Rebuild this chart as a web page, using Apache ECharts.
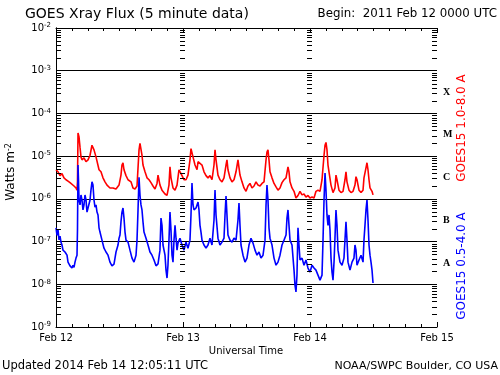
<!DOCTYPE html>
<html>
<head>
<meta charset="utf-8">
<script src="https://cdn.jsdelivr.net/npm/echarts@6/dist/echarts.min.js"></script>
<style>
html, body {margin:0; padding:0; background:#fff;}
#xray {width:500px; height:375px;}
</style>
</head>
<body>
<div id="xray"></div>
<script>
// hours after 2011 Feb 12 00:00 UT, flux in W/m^2
var redHours = [
    0, 0.38, 0.76, 1.13, 1.51, 1.89, 2.27, 2.65, 3.02, 3.40,
    3.78, 3.97, 4.06, 4.16, 4.35, 4.54, 4.72, 4.91, 5.29, 5.67,
    6.05, 6.43, 6.80, 6.99, 7.18, 7.56, 7.75, 8.13, 8.50, 8.88,
    9.26, 9.64, 10.2, 10.77, 11.34, 11.91, 12.28, 12.47, 12.66, 12.85,
    13.23, 13.61, 14.17, 14.55, 14.93, 15.31, 15.69, 15.87, 16.06, 16.25,
    16.44, 16.82, 17.2, 17.58, 17.95, 18.33, 18.71, 19.09, 19.28, 19.65,
    20.03, 20.6, 20.98, 21.35, 21.54, 21.73, 22.11, 22.49, 22.87, 23.24,
    23.43, 23.81, 24.19, 24.57, 24.94, 25.32, 25.51, 25.7, 25.89, 26.27,
    26.65, 26.84, 27.21, 27.59, 27.97, 28.35, 28.72, 29.1, 29.48, 29.86,
    30.05, 30.24, 30.61, 30.99, 31.37, 31.75, 32.13, 32.31, 32.5, 32.88,
    33.26, 33.64, 34.02, 34.39, 34.58, 34.77, 35.15, 35.53, 35.91, 36.28,
    36.66, 37.04, 37.42, 37.8, 38.17, 38.55, 38.93, 39.31, 39.69, 39.87,
    40.06, 40.25, 40.44, 40.82, 41.2, 41.58, 41.95, 42.33, 42.71, 43.09,
    43.47, 43.84, 44.03, 44.22, 44.6, 44.98, 45.35, 45.73, 46.11, 46.49,
    46.87, 47.24, 47.62, 48.0, 48.38, 48.76, 49.13, 49.51, 49.89, 50.27,
    50.65, 50.84, 51.02, 51.21, 51.4, 51.59, 51.97, 52.35, 52.72, 52.91,
    53.1, 53.48, 53.86, 54.24, 54.61, 54.8, 54.99, 55.37, 55.75, 56.13,
    56.5, 56.69, 56.88, 57.26, 57.64, 58.02, 58.2, 58.58, 58.77, 58.96,
    59.15, 59.34, 59.72, 59.91
];
var redFlux = [
    4.8e-6, 4.3e-6, 3.5e-6, 3.9e-6, 3.1e-6, 2.8e-6, 2.6e-6, 2.4e-6, 2.3e-6, 2.0e-6,
    1.8e-6, 1.6e-6, 2.5e-6, 3.5e-5, 2.8e-5, 1.6e-5, 9.6e-6, 8.2e-6, 9.1e-6, 7.4e-6,
    8.2e-6, 1.05e-5, 1.8e-5, 2.0e-5, 1.4e-5, 9.6e-6, 9.1e-6, 4.8e-6, 4.3e-6, 3.1e-6,
    2.5e-6, 2.1e-6, 1.8e-6, 1.8e-6, 1.7e-6, 2.1e-6, 3.6e-6, 6.2e-6, 7.0e-6, 4.8e-6,
    3.5e-6, 2.8e-6, 2.5e-6, 1.8e-6, 1.7e-6, 2.0e-6, 1.4e-5, 2.0e-5, 1.8e-5, 1.05e-5,
    6.2e-6, 4.3e-6, 3.1e-6, 2.8e-6, 2.4e-6, 2.0e-6, 1.7e-6, 2.3e-6, 3.6e-6, 2.1e-6,
    1.6e-6, 1.3e-6, 1.2e-6, 2.1e-6, 5.6e-6, 3.1e-6, 1.8e-6, 1.6e-6, 2.1e-6, 4.8e-6,
    5.3e-6, 3.5e-6, 2.8e-6, 2.8e-6, 3.6e-6, 8.2e-6, 1.5e-5, 1.4e-5, 9.6e-6, 6.2e-6,
    4.8e-6, 7.4e-6, 8.2e-6, 6.2e-6, 4.3e-6, 3.5e-6, 3.1e-6, 3.5e-6, 2.8e-6, 6.2e-6,
    1.4e-5, 8.2e-6, 3.6e-6, 2.8e-6, 2.5e-6, 3.1e-6, 6.2e-6, 8.2e-6, 4.8e-6, 3.1e-6,
    2.5e-6, 2.8e-6, 4.3e-6, 8.2e-6, 7.4e-6, 3.6e-6, 2.5e-6, 1.8e-6, 1.5e-6, 2.0e-6,
    2.3e-6, 1.8e-6, 2.0e-6, 2.5e-6, 2.1e-6, 2.0e-6, 2.3e-6, 2.5e-6, 8.2e-6, 1.24e-5,
    1.4e-5, 8.2e-6, 4.3e-6, 3.1e-6, 2.3e-6, 1.9e-6, 1.6e-6, 1.8e-6, 2.4e-6, 2.8e-6,
    3.1e-6, 5.6e-6, 4.3e-6, 2.5e-6, 1.8e-6, 1.5e-6, 1.05e-6, 1.2e-6, 1.5e-6, 1.24e-6,
    1.3e-6, 1.1e-6, 1.2e-6, 1.05e-6, 1.1e-6, 1.05e-6, 1.5e-6, 1.6e-6, 1.5e-6, 2.8e-6,
    1.05e-5, 1.8e-5, 2.1e-5, 1.4e-5, 6.2e-6, 4.3e-6, 2.1e-6, 1.4e-6, 1.8e-6, 3.6e-6,
    2.8e-6, 1.6e-6, 1.4e-6, 1.5e-6, 2.8e-6, 4.3e-6, 2.5e-6, 1.6e-6, 1.4e-6, 1.5e-6,
    2.1e-6, 3.3e-6, 2.8e-6, 1.6e-6, 1.4e-6, 1.6e-6, 3.1e-6, 5.3e-6, 7.0e-6, 4.8e-6,
    2.8e-6, 1.8e-6, 1.5e-6, 1.24e-6
];
var blueHours = [
    0, 0.19, 0.38, 0.57, 0.76, 0.94, 1.13, 1.32, 1.51, 1.70,
    1.89, 2.08, 2.27, 2.65, 3.02, 3.21, 3.40, 3.59, 3.78, 3.97,
    4.06, 4.16, 4.25, 4.35, 4.54, 4.72, 4.91, 5.10, 5.29, 5.48,
    5.67, 5.86, 6.05, 6.43, 6.61, 6.80, 6.99, 7.18, 7.37, 7.56,
    7.75, 7.94, 8.13, 8.31, 8.50, 8.69, 9.07, 9.45, 9.83, 10.2,
    10.58, 10.96, 11.15, 11.34, 11.53, 11.72, 11.91, 12.09, 12.28, 12.47,
    12.66, 12.85, 13.04, 13.23, 13.42, 13.61, 13.98, 14.36, 14.74, 15.12,
    15.31, 15.50, 15.69, 15.87, 16.06, 16.25, 16.44, 16.63, 17.01, 17.39,
    17.76, 18.14, 18.52, 18.9, 19.28, 19.65, 19.84, 20.03, 20.22, 20.6,
    20.79, 20.98, 21.16, 21.35, 21.54, 21.73, 21.92, 22.11, 22.3, 22.49,
    22.68, 22.87, 23.05, 23.43, 23.81, 24.19, 24.57, 24.94, 25.32, 25.51,
    25.7, 25.89, 26.08, 26.46, 26.84, 27.02, 27.21, 27.40, 27.59, 27.97,
    28.35, 28.72, 29.1, 29.48, 29.86, 30.05, 30.24, 30.61, 30.99, 31.37,
    31.75, 31.94, 32.13, 32.31, 32.5, 32.88, 33.26, 33.64, 34.02, 34.39,
    34.58, 34.77, 34.96, 35.34, 35.72, 36.09, 36.47, 36.85, 37.23, 37.61,
    37.99, 38.36, 38.74, 39.12, 39.5, 39.69, 39.87, 40.06, 40.25, 40.44,
    40.82, 41.2, 41.58, 41.95, 42.33, 42.71, 43.09, 43.47, 43.65, 43.84,
    44.03, 44.22, 44.6, 44.98, 45.16, 45.35, 45.54, 45.73, 45.92, 46.11,
    46.49, 46.87, 47.24, 47.62, 48.0, 48.38, 48.76, 49.13, 49.51, 49.89,
    50.27, 50.46, 50.65, 50.84, 51.02, 51.21, 51.4, 51.59, 51.78, 51.97,
    52.16, 52.35, 52.54, 52.72, 52.91, 53.1, 53.29, 53.67, 54.05, 54.42,
    54.61, 54.8, 54.99, 55.18, 55.56, 55.94, 56.31, 56.5, 56.69, 56.88,
    57.26, 57.64, 58.02, 58.2, 58.39, 58.58, 58.77, 58.96, 59.15, 59.34,
    59.53, 59.72, 59.91
];
var blueFlux = [
    2.1e-7, 1.4e-7, 1.9e-7, 1.1e-7, 1.35e-7, 9.7e-8, 8.3e-8, 6.3e-8, 7.0e-8, 5.7e-8,
    6.3e-8, 4.8e-8, 3.3e-8, 2.7e-8, 2.4e-8, 2.8e-8, 2.5e-8, 3.3e-8, 4.1e-8, 4.8e-8,
    1.86e-7, 6.2e-6, 2.75e-6, 9.4e-7, 7.2e-7, 1.23e-6, 9.4e-7, 5.5e-7, 7.2e-7, 1.23e-6,
    9.4e-7, 4.9e-7, 6.1e-7, 9.4e-7, 1.6e-6, 2.5e-6, 2.1e-6, 9.4e-7, 6.4e-7, 7.2e-7,
    4.9e-7, 4.2e-7, 2.1e-7, 1.67e-7, 1.86e-7, 1.08e-7, 7.0e-8, 5.7e-8, 4.8e-8, 3.3e-8,
    2.7e-8, 2.97e-8, 4.1e-8, 5.7e-8, 6.3e-8, 8.3e-8, 1.2e-7, 1.42e-7, 2.9e-7, 4.9e-7,
    6.1e-7, 3.55e-7, 1.67e-7, 1.08e-7, 1.2e-7, 9.7e-8, 6.3e-8, 4.1e-8, 3.3e-8, 4.8e-8,
    1.08e-7, 5.5e-7, 3.2e-6, 1.23e-6, 7.2e-7, 5.5e-7, 2.9e-7, 1.67e-7, 1.2e-7, 8.3e-8,
    5.7e-8, 4.8e-8, 3.7e-8, 2.7e-8, 3.0e-8, 6.3e-8, 3.55e-7, 2.4e-7, 8.3e-8, 4.8e-8,
    2.15e-8, 1.4e-8, 2.8e-8, 1.08e-7, 4.9e-7, 1.86e-7, 4.8e-8, 3.3e-8, 1.08e-7, 2.4e-7,
    1.2e-7, 6.3e-8, 9.2e-8, 1.2e-7, 8.3e-8, 6.3e-8, 9.7e-8, 7.0e-8, 1.08e-7, 4.2e-7,
    2.35e-6, 7.2e-7, 5.5e-7, 6.1e-7, 8.4e-7, 5.5e-7, 2.4e-7, 1.67e-7, 1.08e-7, 8.3e-8,
    7.0e-8, 8.3e-8, 1.2e-7, 8.3e-8, 3.2e-7, 1.6e-6, 4.2e-7, 1.2e-7, 8.3e-8, 9.7e-8,
    1.2e-7, 4.2e-7, 1.16e-6, 4.2e-7, 1.42e-7, 1.08e-7, 9.7e-8, 1.2e-7, 1.08e-7, 3.2e-7,
    8.0e-7, 2.4e-7, 8.3e-8, 4.8e-8, 3.3e-8, 4.1e-8, 8.3e-8, 1.2e-7, 9.2e-8, 6.3e-8,
    4.8e-8, 5.7e-8, 4.1e-8, 4.8e-8, 1.08e-7, 7.2e-7, 2.1e-6, 9.4e-7, 2.1e-7, 1.2e-7,
    8.3e-8, 4.1e-8, 2.8e-8, 3.3e-8, 4.8e-8, 8.3e-8, 1.08e-7, 1.42e-7, 3.55e-7, 5.5e-7,
    2.4e-7, 1.08e-7, 8.3e-8, 2.15e-8, 9.6e-9, 6.6e-9, 1.64e-8, 2.1e-7, 8.3e-8, 3.7e-8,
    4.1e-8, 2.8e-8, 3.7e-8, 2.4e-8, 1.93e-8, 2.8e-8, 2.4e-8, 2.15e-8, 1.64e-8, 1.25e-8,
    1.64e-8, 1.08e-7, 9.4e-7, 4.0e-6, 1.6e-6, 4.2e-7, 2.4e-7, 4.2e-7, 1.86e-7, 4.1e-8,
    1.93e-8, 1.25e-8, 3.3e-8, 1.2e-7, 5.5e-7, 2.4e-7, 6.3e-8, 3.3e-8, 2.8e-8, 4.1e-8,
    1.08e-7, 2.9e-7, 1.08e-7, 3.3e-8, 2.15e-8, 3.3e-8, 4.1e-8, 8.3e-8, 6.3e-8, 2.8e-8,
    3.7e-8, 4.8e-8, 3.3e-8, 1.08e-7, 2.4e-7, 5.5e-7, 9.4e-7, 3.2e-7, 8.3e-8, 4.8e-8,
    3.3e-8, 2.15e-8, 1.07e-8
];

var dayLabels = ['Feb 12', 'Feb 13', 'Feb 14', 'Feb 15'];
var dayHours = [0, 24, 48, 72];
var decades = [-9, -8, -7, -6, -5, -4, -3];
var minorSteps = [2, 3, 4, 5, 6, 7, 8, 9];
// flare class letters sit half a decade above each class threshold
var classLetters = {'-7.5': 'A', '-6.5': 'B', '-5.5': 'C', '-4.5': 'M', '-3.5': 'X'};
var redName = 'GOES15 1.0-8.0 A';
var blueName = 'GOES15 0.5-4.0 A';

var font = 'DejaVu Sans';

var pairs = function(xs, ys){
    var out = [];
    for (var i = 0; i < xs.length; i++) out.push([xs[i], ys[i]]);
    return out;
};

var minor_tick_data = function(){
    var out = [];
    dayHours.forEach(function(h){
        decades.forEach(function(e){
            minorSteps.forEach(function(m){
                out.push([h, m * Math.pow(10, e)]);
            });
        });
    });
    return out;
};

var get_option = function(){
    var xBase = {
        type: 'value', min: 0, max: 72, interval: 24,
        axisLine: {lineStyle: {color: '#000', width: 1}},
        axisTick: {inside: true, length: 5, lineStyle: {color: '#000'}},
        minorTick: {show: true, splitNumber: 8, length: 3, lineStyle: {color: '#000'}},
        splitLine: {show: false}
    };
    var option = {
        animation: false,
        backgroundColor: '#fff',
        textStyle: {fontFamily: font},
        grid: {left: 56, top: 28, width: 381, height: 299, outerBoundsMode: 'none'},
        xAxis: [
            Object.assign({}, xBase, {
                position: 'bottom',
                axisLabel: {
                    color: '#000', fontSize: 10, margin: 6,
                    formatter: function(v){ return dayLabels[Math.round(v / 24)]; }
                }
            }),
            Object.assign({}, xBase, {position: 'top', axisLabel: {show: false}})
        ],
        yAxis: [{
            type: 'log', logBase: 10, min: 1e-9, max: 1e-2, splitNumber: 7,
            position: 'left',
            axisLine: {lineStyle: {color: '#000', width: 1}},
            axisTick: {show: false},
            splitLine: {show: true, lineStyle: {color: '#000', width: 1}},
            axisLabel: {
                margin: 5, color: '#000',
                formatter: function(v){
                    return '{b|10}{s|' + Math.round(Math.log10(v)) + '}';
                },
                rich: {
                    b: {fontSize: 10, color: '#000', fontFamily: font, lineHeight: 12},
                    s: {fontSize: 7, color: '#000', fontFamily: font, verticalAlign: 'top', lineHeight: 7}
                }
            }
        }, {
            type: 'value', min: -9, max: -2, interval: 0.5,
            position: 'right',
            axisLine: {show: true, lineStyle: {color: '#000', width: 1}},
            axisTick: {show: false},
            splitLine: {show: false},
            axisLabel: {
                margin: 6, color: '#000', fontSize: 10, fontWeight: 'bold',
                fontFamily: 'Liberation Serif',
                formatter: function(v){ return classLetters[String(v)] || ''; }
            }
        }],
        graphic: [
            {type: 'text', x: 25, y: 14, style: {text: 'GOES Xray Flux (5 minute data)',
                fontFamily: font, fontSize: 14, fill: '#000', align: 'left', verticalAlign: 'middle'}},
            {type: 'text', x: 497, y: 14, style: {text: 'Begin:  2011 Feb 12 0000 UTC',
                fontFamily: font, fontSize: 11.8, fill: '#000', align: 'right', verticalAlign: 'middle'}},
            {type: 'text', x: 11, y: 172, rotation: Math.PI / 2, style: {text: 'Watts m{s|-2}',
                fontFamily: font, fontSize: 12, fill: '#000', align: 'center', verticalAlign: 'middle',
                rich: {s: {fontFamily: font, fontSize: 8, fill: '#000', verticalAlign: 'top'}}}},
            {type: 'text', x: 246, y: 351, style: {text: 'Universal Time',
                fontFamily: font, fontSize: 10, fill: '#000', align: 'center', verticalAlign: 'middle'}},
            {type: 'text', x: 2, y: 366, style: {text: 'Updated 2014 Feb 14 12:05:11 UTC',
                fontFamily: font, fontSize: 11.5, fill: '#000', align: 'left', verticalAlign: 'middle'}},
            {type: 'text', x: 498, y: 366, style: {text: 'NOAA/SWPC Boulder, CO USA',
                fontFamily: font, fontSize: 11, fill: '#000', align: 'right', verticalAlign: 'middle'}},
            {type: 'text', x: 462, y: 128, rotation: Math.PI / 2, style: {text: redName,
                fontFamily: font, fontSize: 12, fill: '#ff0000', align: 'center', verticalAlign: 'middle'}},
            {type: 'text', x: 462, y: 266, rotation: Math.PI / 2, style: {text: blueName,
                fontFamily: font, fontSize: 12, fill: '#0000ff', align: 'center', verticalAlign: 'middle'}}
        ],
        series: [{
            name: redName, type: 'line', xAxisIndex: 0, yAxisIndex: 0,
            showSymbol: false, symbol: 'none',
            lineStyle: {color: '#ff0000', width: 1.6},
            data: pairs(redHours, redFlux), z: 3
        }, {
            name: blueName, type: 'line', xAxisIndex: 0, yAxisIndex: 0,
            showSymbol: false, symbol: 'none',
            lineStyle: {color: '#0000ff', width: 1.6},
            data: pairs(blueHours, blueFlux), z: 4
        }, {
            // log-spaced minor ticks on both frames and on the day boundaries
            type: 'custom', xAxisIndex: 0, yAxisIndex: 0, silent: true, clip: false, z: 5,
            data: minor_tick_data(),
            renderItem: function(params, api){
                var h = api.value(0);
                var p = api.coord([h, api.value(1)]);
                var x1 = p[0], x2 = p[0];
                if (h === 0) { x2 = x1 + 5; }
                else if (h === 72) { x1 = x2 - 5; }
                else { x1 -= 3; x2 += 2; }
                var y = Math.round(p[1]) + 0.5;
                return {type: 'line', shape: {x1: x1, y1: y, x2: x2, y2: y},
                    style: {stroke: '#000', lineWidth: 1}};
            }
        }]
    };
    return option;
};

var myChart = echarts.init(document.getElementById('xray'));
myChart.setOption(get_option());
</script>
</body>
</html>
